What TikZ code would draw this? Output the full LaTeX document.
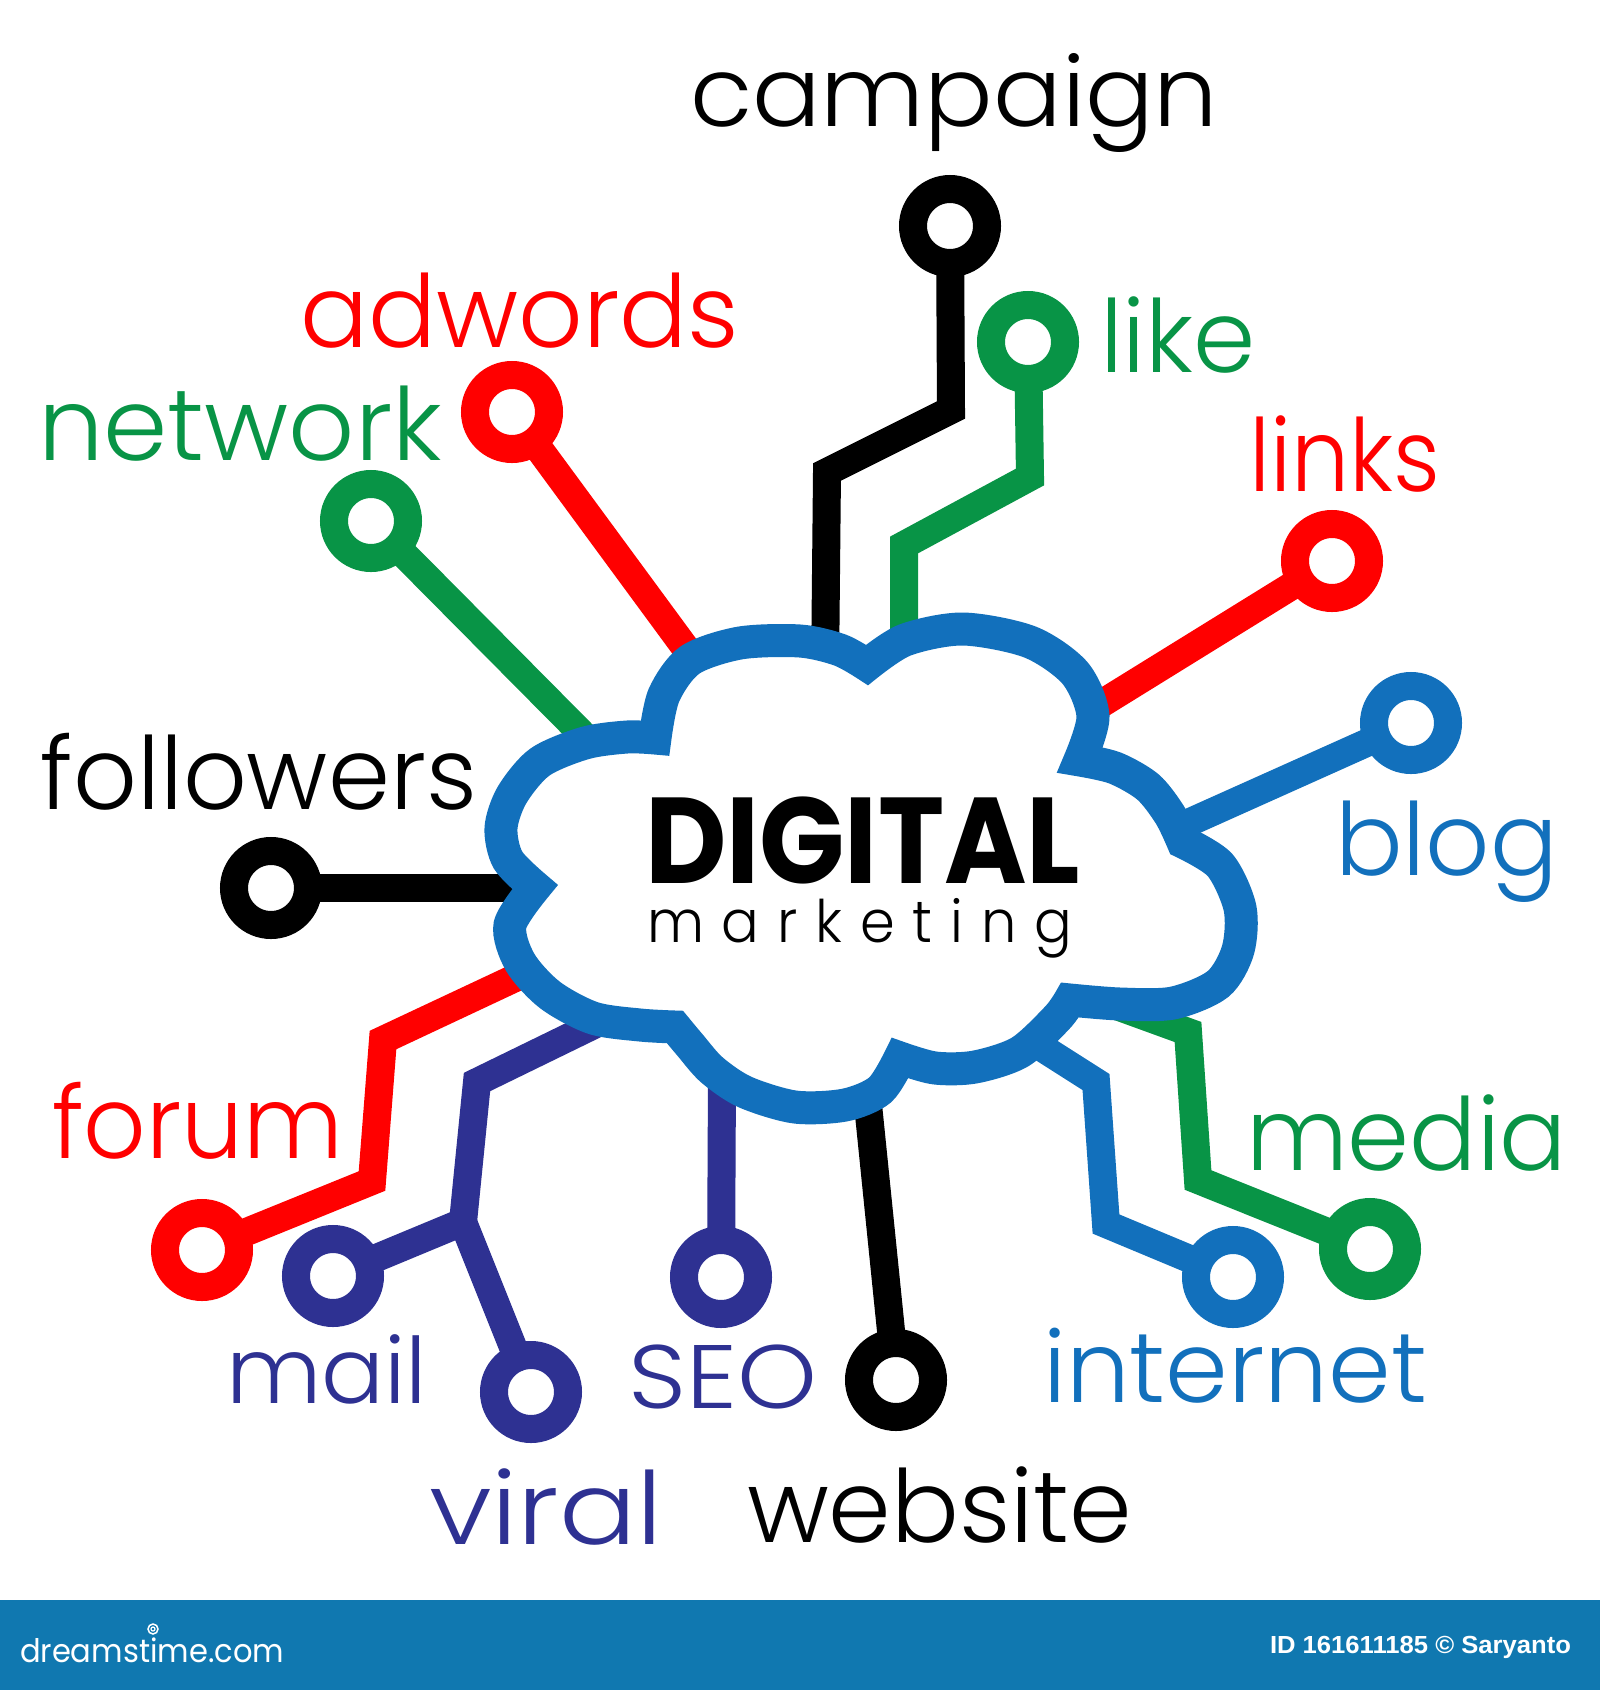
\documentclass[tikz,border=0pt]{standalone}
\usepackage{fontspec}
\usepackage{graphicx}
\newfontfamily\labfont{Poppins}
\newfontfamily\litfont{Poppins Light}
\newfontfamily\idfont{Liberation Sans}
\definecolor{cred}{RGB}{255,0,0}
\definecolor{cgreen}{RGB}{8,148,70}
\definecolor{cblue}{RGB}{18,112,188}
\definecolor{cnavy}{RGB}{46,49,146}
\definecolor{cbar}{RGB}{16,120,176}
% width, height of reference glyph, reference glyph, text
\newcommand\fitw[4]{\resizebox{#1pt}{#2pt}{\rule{0pt}{\fontcharht\font`#3}\smash{#4}}}
\newcommand\lsp{\hspace{0.32em}}
\begin{document}
\begin{tikzpicture}[x=1pt,y=-1pt,
  conn/.style={draw=#1, line width=28pt, line join=miter, line cap=butt},
  ring/.style={circle, draw=#1, fill=white, line width=28pt, minimum size=74pt, inner sep=0pt, outer sep=0pt},
  lab/.style={anchor=base west, inner sep=0pt, outer sep=0pt, text=#1},
  cloudline/.style={draw=cblue, fill=white, line width=33pt, line join=miter, miter limit=3}]
\useasboundingbox (0,0) rectangle (1600,1690);
\fill[white] (0,0) rectangle (1600,1690);

% ---------- rings ----------
\node[ring=black]  (campR) at (950,226)  {};
\node[ring=cgreen] (likeR) at (1028,342) {};
\node[ring=cred]   (adwR)  at (512,412)  {};
\node[ring=cgreen] (netR)  at (371,521)  {};
\node[ring=cred]   (lnkR)  at (1332,561) {};
\node[ring=cblue]  (blgR)  at (1411,723) {};
\node[ring=black]  (folR)  at (271,888)  {};
\node[ring=cred]   (forR)  at (202,1250) {};
\node[ring=cnavy]  (mailR) at (333,1276) {};
\node[ring=cnavy]  (virR)  at (531,1392) {};
\node[ring=cnavy]  (seoR)  at (721,1277) {};
\node[ring=black]  (webR)  at (896,1380) {};
\node[ring=cblue]  (intR)  at (1233,1277) {};
\node[ring=cgreen] (medR)  at (1370,1249) {};

% ---------- connector points ----------
\coordinate (camp1) at (951,410);
\coordinate (camp2) at (827,472);
\coordinate (campE) at (825,675);
\coordinate (like1) at (1030,477);
\coordinate (like2) at (904,545);
\coordinate (likeE) at (904,675);
\coordinate (adwE)  at (712,684);
\coordinate (netE)  at (605,757);
\coordinate (lnkE)  at (1075,720);
\coordinate (blgE)  at (1150,840);
\coordinate (folE)  at (545,888);
\coordinate (for1)  at (372,1181);
\coordinate (for2)  at (383,1040);
\coordinate (forE)  at (530,971);
\coordinate (mvJ)   at (463,1222);
\coordinate (mv2)   at (477,1082);
\coordinate (mvE)   at (600,1022);
\coordinate (seoE)  at (722,1075);
\coordinate (webE)  at (866,1085);
\coordinate (int1)  at (1106,1224);
\coordinate (int2)  at (1096,1082);
\coordinate (intE)  at (1030,1040);
\coordinate (med1)  at (1198,1180);
\coordinate (med2)  at (1188,1032);
\coordinate (medE)  at (1100,1000);

% ---------- connectors ----------
\draw[conn=black]  (campR) -- (camp1) -- (camp2) -- (campE);
\draw[conn=cgreen] (likeR) -- (like1) -- (like2) -- (likeE);
\draw[conn=cred]   (adwR) -- (adwE);
\draw[conn=cgreen] (netR) -- (netE);
\draw[conn=cred]   (lnkR) -- (lnkE);
\draw[conn=cblue]  (blgR) -- (blgE);
\draw[conn=black]  (folR) -- (folE);
\draw[conn=cred]   (forR) -- (for1) -- (for2) -- (forE);
\draw[conn=cnavy]  (mailR) -- (mvJ) -- (mv2) -- (mvE);
\draw[conn=cnavy, line cap=round] (virR) -- (mvJ);
\draw[conn=cnavy]  (seoR) -- (seoE);
\draw[conn=black]  (webR) -- (webE);
\draw[conn=cblue]  (intR) -- (int1) -- (int2) -- (intE);
\draw[conn=cgreen] (medR) -- (med1) -- (med2) -- (medE);

% ---------- cloud ----------
\path[cloudline]
  plot[smooth] coordinates {(535,887) (508,860) (501,828) (512,795) (540,762) (585,743) (627,737) (655,738)}
  -- plot[smooth] coordinates {(655,738) (664,695) (690,660) (740,643) (800,641) (840,650) (867,665)}
  -- plot[smooth] coordinates {(867,665) (905,640) (963,629) (1030,642) (1075,673) (1093,716) (1080,760)}
  -- plot[smooth] coordinates {(1080,760) (1115,768) (1148,787) (1170,815) (1183,842)}
  -- plot[smooth] coordinates {(1183,842) (1220,865) (1240,908) (1238,950) (1218,984) (1173,1003) (1120,1004) (1070,1000)}
  -- plot[smooth] coordinates {(1070,1000) (1057,1018) (1020,1052) (975,1067) (935,1068) (900,1058)}
  -- plot[smooth] coordinates {(900,1058) (880,1090) (845,1105) (795,1107) (745,1092) (712,1070) (690,1045) (675,1027)}
  -- plot[smooth] coordinates {(675,1027) (640,1025) (593,1018) (550,995) (520,962) (510,925) (535,887)}
  -- cycle;

% ---------- centre text ----------
\node[lab=black] (dig) at (645,883) {\labfont\bfseries\fitw{435}{86}{D}{DIGITAL}};
\node[lab=black] (mkt) at (647,942) {\litfont\fitw{425}{32}{x}{m\lsp a\lsp r\lsp k\lsp e\lsp t\lsp i\lsp n\lsp g}};

% ---------- labels ----------
\node[lab=black]  (campT) at (690,126)  {\litfont\fitw{528}{53}{x}{campaign}};
\node[lab=cred]   (adwT)  at (300,347)  {\litfont\fitw{439}{55}{x}{adwords}};
\node[lab=cgreen] (likeT) at (1100,372) {\litfont\fitw{156}{55}{x}{like}};
\node[lab=cgreen] (netT)  at (38,460)   {\litfont\fitw{404}{55}{x}{network}};
\node[lab=cred]   (lnkT)  at (1249,491) {\litfont\fitw{191}{55}{x}{links}};
\node[lab=black]  (folT)  at (41,809)   {\litfont\fitw{436}{55}{x}{followers}};
\node[lab=cblue]  (blgT)  at (1335,875) {\litfont\fitw{223}{55}{x}{blog}};
\node[lab=cred]   (forT)  at (52,1158)  {\litfont\fitw{291}{55}{x}{forum}};
\node[lab=cgreen] (medT)  at (1246,1170) {\litfont\fitw{321}{55}{x}{media}};
\node[lab=cnavy]  (mailT) at (226,1403) {\litfont\fitw{201}{50}{x}{mail}};
\node[lab=cnavy]  (seoT)  at (628,1408) {\litfont\fitw{189}{63}{E}{SEO}};
\node[lab=cblue]  (intT)  at (1043,1402) {\litfont\fitw{384}{54}{x}{internet}};
\node[lab=cnavy]  (virT)  at (429,1544) {\litfont\fitw{234}{55}{x}{viral}};
\node[lab=black]  (webT)  at (747,1542) {\litfont\fitw{385}{55}{x}{website}};

% ---------- bottom bar ----------
\fill[cbar] (0,1600) rectangle (1600,1690);
\node[lab=white] (dst) at (20,1662) {\labfont\fitw{264}{24}{d}{dreamstime.com}};
\draw[white, line width=1.5pt] (153,1629) circle (5);
\draw[white, line width=1.2pt] (153,1629) circle (2);
\node[lab=white] (idt) at (1270,1653) {\idfont\bfseries\fitw{301}{17}{I}{ID 161611185 © Saryanto}};
\end{tikzpicture}
\end{document}
